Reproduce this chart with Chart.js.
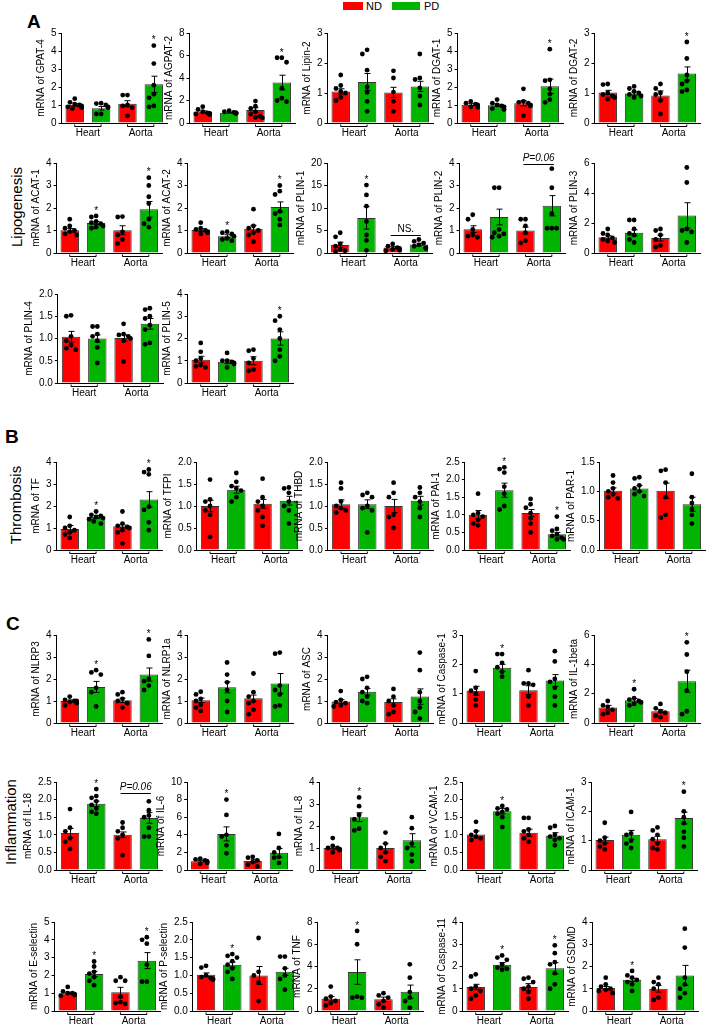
<!DOCTYPE html>
<html>
<head>
<meta charset="utf-8">
<script src="https://cdn.jsdelivr.net/npm/chart.js@4.4.1/dist/chart.umd.min.js"></script>
<style>
  body { margin: 0; background: #fff; width: 709px; height: 1026px; position: relative; overflow: hidden;
         font-family: "Liberation Sans", Arial, sans-serif; color: #000; }
  .panel { position: absolute; }
  .tag { position: absolute; font-weight: bold; font-size: 19px; line-height: 19px; }
  .side { position: absolute; font-size: 15px; line-height: 15px; white-space: nowrap;
          transform: translate(-50%, -50%) rotate(-90deg); }
  .key { position: absolute; }
  .ktxt { position: absolute; font-size: 11px; line-height: 11px; }
</style>
</head>
<body>
<div class="key" style="left:343px;top:2px;width:20px;height:8px;background:#ff0000"></div>
<div class="ktxt" style="left:366px;top:1px">ND</div>
<div class="key" style="left:392px;top:2px;width:28px;height:8px;background:#00b400"></div>
<div class="ktxt" style="left:424px;top:1px">PD</div>

<div class="tag" style="left:27px;top:12px">A</div>
<div class="tag" style="left:5px;top:427px">B</div>
<div class="tag" style="left:6px;top:614px">C</div>

<div class="side" style="left:16px;top:207px">Lipogenesis</div>
<div class="side" style="left:15px;top:505px">Thrombosis</div>
<div class="side" style="left:10px;top:822px">Inflammation</div>

<script>
// ---- data ----
const genes = ["GPAT-4", "AGPAT-2", "Lipin-2", "DGAT-1", "DGAT-2",
  "ACAT-1", "ACAT-2", "PLIN-1", "PLIN-2", "PLIN-3",
  "PLIN-4", "PLIN-5",
  "TF", "TFPI", "THBD", "PAI-1", "PAR-1",
  "NLRP3", "NLRP1a", "ASC", "Caspase-1", "IL-1beta",
  "IL-18", "IL-6", "IL-8", "VCAM-1", "ICAM-1",
  "E-selectin", "P-selectin", "TNF", "Caspase-11", "GSDMD"];
const groups = ["Heart", "Aorta"];
const diets = ["ND", "PD", "ND", "PD"];

const yMax = [5, 8, 3, 5, 3, 4, 4, 20, 4, 6, 2, 4, 4, 2, 2, 2.5, 1.5,
  4, 4, 4, 3, 6, 2.5, 10, 4, 2.5, 3, 5, 2.5, 8, 4, 4];
const yStep = [1, 2, 1, 1, 1, 1, 1, 5, 1, 2, 0.5, 1, 1, 0.5, 0.5, 0.5, 0.5,
  1, 1, 1, 1, 2, 0.5, 2, 1, 0.5, 1, 1, 0.5, 2, 1, 1];

// bar heights: Heart ND, Heart PD, Aorta ND, Aorta PD
const means = [
  [1.0, 0.82, 1.07, 2.15], [1.0, 0.92, 1.15, 3.6], [1.05, 1.37, 1.02, 1.22], [1.02, 0.98, 1.1, 2.04], [1.02, 0.98, 0.92, 1.65],
  [1.01, 1.33, 1.01, 1.94], [1.02, 0.75, 1.08, 2.05], [1.8, 7.8, 1.2, 1.9], [1.06, 1.6, 1.0, 2.1], [1.05, 1.35, 1.0, 2.5],
  [1.04, 1.0, 1.01, 1.33], [1.05, 0.95, 1.0, 2.0],
  [0.96, 1.5, 1.08, 2.3], [1.0, 1.37, 1.05, 1.12], [1.04, 1.04, 1.0, 1.12], [1.0, 1.7, 1.05, 0.45], [1.01, 1.05, 1.01, 0.78],
  [1.0, 1.64, 1.03, 2.2], [1.03, 1.62, 1.12, 1.8], [0.98, 1.42, 0.95, 1.2], [1.1, 1.88, 1.12, 1.45], [1.05, 1.55, 0.8, 2.85],
  [1.05, 1.88, 1.0, 1.48], [1.0, 4.1, 1.02, 1.95], [1.0, 2.4, 1.0, 1.35], [1.01, 1.67, 1.06, 0.98], [1.02, 1.2, 1.05, 1.77],
  [1.0, 2.08, 1.05, 2.83], [1.02, 1.3, 1.0, 1.1], [1.1, 3.5, 1.05, 1.73], [1.08, 2.08, 1.08, 1.92], [1.03, 1.4, 1.0, 1.6]
];
const sems = [
  [0.07, 0.1, 0.17, 0.45], [0.08, 0.04, 0.2, 0.65], [0.09, 0.28, 0.17, 0.17], [0.05, 0.06, 0.15, 0.4], [0.07, 0.05, 0.15, 0.22],
  [0.08, 0.07, 0.2, 0.35], [0.06, 0.06, 0.15, 0.22], [0.6, 2.5, 0.2, 0.25], [0.15, 0.35, 0.15, 0.45], [0.1, 0.2, 0.2, 0.85],
  [0.12, 0.08, 0.07, 0.12], [0.15, 0.08, 0.18, 0.3],
  [0.15, 0.07, 0.07, 0.35], [0.13, 0.08, 0.1, 0.1], [0.1, 0.1, 0.15, 0.1], [0.12, 0.2, 0.1, 0.05], [0.05, 0.05, 0.13, 0.12],
  [0.05, 0.25, 0.1, 0.3], [0.1, 0.25, 0.15, 0.45], [0.08, 0.15, 0.15, 0.35], [0.15, 0.12, 0.15, 0.2], [0.15, 0.12, 0.1, 0.75],
  [0.13, 0.08, 0.08, 0.15], [0.1, 0.8, 0.2, 0.5], [0.05, 0.2, 0.2, 0.3], [0.1, 0.08, 0.1, 0.08], [0.1, 0.15, 0.1, 0.2],
  [0.05, 0.15, 0.28, 0.45], [0.05, 0.07, 0.25, 0.1], [0.2, 1.1, 0.2, 0.6], [0.12, 0.1, 0.15, 0.25], [0.07, 0.07, 0.15, 0.45]
];
// individual animals per bar
const dots = [
  [[1.35, 1.15, 1.05, 1.0, 0.95, 0.9, 0.85, 0.8], [1.1, 1.08, 1.0, 0.9, 0.85, 0.5, 0.5], [1.55, 1.55, 1.0, 0.95, 0.85, 0.4], [4.3, 3.3, 2.1, 1.6, 1.4, 0.95, 0.9]],
  [[1.45, 1.2, 1.0, 0.9, 0.85, 0.8, 0.8, 0.75], [1.1, 1.0, 0.95, 0.9, 0.9, 0.88, 0.85, 0.85], [1.95, 1.5, 1.3, 1.0, 0.8, 0.6, 0.5, 0.45], [5.8, 5.8, 5.4, 3.1, 2.2, 2.0, 1.9]],
  [[1.6, 1.25, 1.15, 1.05, 1.0, 0.85, 0.75], [2.44, 2.3, 1.76, 1.2, 1.02, 0.72, 0.39], [1.74, 1.5, 1.03, 0.72, 0.39], [2.3, 1.5, 1.45, 1.17, 0.9, 0.6]],
  [[1.2, 1.1, 1.05, 1.0, 0.95, 0.9, 0.9, 0.88], [1.3, 1.1, 1.0, 0.95, 0.9, 0.8, 0.75], [1.9, 1.2, 1.15, 1.1, 1.0, 0.95, 0.4], [4.1, 2.4, 2.35, 1.9, 1.6, 1.3, 1.15]],
  [[1.3, 1.28, 1.0, 0.95, 0.9, 0.85, 0.8], [1.22, 1.15, 1.05, 1.0, 0.95, 0.9, 0.85], [1.3, 1.15, 1.0, 0.95, 0.75, 0.3], [2.7, 2.15, 1.6, 1.4, 1.3, 1.1, 1.05]],
  [[1.5, 1.2, 1.1, 1.0, 0.95, 0.85, 0.8], [1.65, 1.6, 1.4, 1.35, 1.3, 1.2, 1.15, 1.1], [1.62, 1.6, 0.94, 0.8, 0.6, 0.42], [3.35, 3.0, 2.5, 2.2, 1.5, 1.3, 1.15]],
  [[1.35, 1.1, 1.05, 1.0, 0.95, 0.9, 0.85], [0.95, 0.9, 0.85, 0.75, 0.65, 0.6, 0.55], [1.95, 1.2, 1.1, 1.0, 0.9, 0.8, 0.5], [3.0, 2.75, 2.6, 1.85, 1.75, 1.5, 1.25]],
  [[4.5, 3.6, 2.0, 1.5, 0.8, 0.5, 0.3], [15.1, 12.9, 10.4, 7.0, 4.0, 2.8, 0.6], [2.0, 1.5, 1.2, 1.0, 0.8, 0.6, 0.5], [3.0, 2.6, 2.2, 1.8, 1.5, 1.2, 1.0]],
  [[1.7, 1.5, 1.05, 0.8, 0.75, 0.7], [2.9, 2.9, 1.05, 0.9, 0.85, 0.75, 0.7], [1.5, 1.5, 1.2, 0.9, 0.55, 0.45], [3.75, 2.9, 1.75, 1.1, 1.1, 1.1]],
  [[1.6, 1.3, 1.2, 1.0, 0.9, 0.8, 0.7], [2.2, 2.2, 1.6, 1.3, 1.2, 0.9, 0.7], [1.6, 1.5, 1.2, 0.9, 0.5, 0.4], [5.7, 4.7, 1.6, 1.5, 1.4, 0.7]],
  [[1.52, 1.5, 1.05, 0.95, 0.85, 0.78, 0.75], [1.27, 1.27, 1.1, 1.05, 0.95, 0.8, 0.45], [1.33, 1.1, 1.08, 1.05, 1.0, 0.95, 0.48], [1.68, 1.65, 1.5, 1.45, 1.3, 1.2, 0.9, 0.87]],
  [[1.8, 1.4, 1.1, 1.0, 0.8, 0.75, 0.7], [1.35, 1.0, 1.0, 0.95, 0.9, 0.85, 0.7], [1.5, 1.45, 1.1, 0.9, 0.6, 0.55], [3.0, 2.8, 2.4, 2.0, 1.5, 1.2, 1.0]],
  [[1.5, 1.1, 1.0, 0.9, 0.8, 0.7, 0.55], [1.75, 1.6, 1.55, 1.5, 1.45, 1.4, 1.3, 1.2], [1.75, 1.2, 1.1, 1.05, 1.0, 0.9, 0.8, 0.3], [3.66, 3.54, 3.44, 1.97, 1.82, 1.26, 0.9]],
  [[1.6, 1.15, 1.1, 1.0, 0.9, 0.8, 0.3], [1.75, 1.55, 1.45, 1.4, 1.35, 1.2, 1.1], [1.62, 1.2, 1.1, 1.0, 0.9, 0.75, 0.55], [1.42, 1.4, 1.3, 1.1, 1.0, 0.9, 0.6]],
  [[1.53, 1.4, 1.1, 1.0, 0.95, 0.9, 0.85], [1.3, 1.25, 1.2, 1.0, 0.95, 0.9, 0.4], [1.53, 1.3, 1.2, 0.8, 0.75, 0.5], [1.42, 1.3, 1.2, 1.1, 0.95, 0.75]],
  [[1.6, 1.05, 1.0, 0.95, 0.85, 0.75, 0.7], [2.35, 2.3, 2.2, 1.8, 1.6, 1.25, 1.15], [1.45, 1.3, 1.2, 1.05, 0.9, 0.75, 0.5], [0.95, 0.6, 0.55, 0.45, 0.4, 0.35, 0.3, 0.3]],
  [[1.27, 1.15, 1.05, 1.0, 0.95, 0.9, 0.88], [1.24, 1.22, 1.1, 1.05, 1.0, 0.95, 0.92], [1.37, 1.35, 1.15, 0.9, 0.6, 0.55], [1.3, 0.9, 0.8, 0.7, 0.6, 0.45]],
  [[1.2, 1.05, 1.0, 1.0, 0.95, 0.9, 0.8], [2.4, 2.3, 2.2, 1.6, 1.4, 0.75], [1.4, 1.3, 1.1, 1.0, 0.9, 0.7], [3.8, 3.05, 2.0, 1.9, 1.7, 1.5]],
  [[1.42, 1.3, 1.1, 1.0, 0.82, 0.7, 0.55], [2.75, 2.2, 1.85, 1.5, 1.0, 0.5], [2.25, 1.4, 1.2, 1.0, 0.9, 0.6, 0.4], [3.2, 3.15, 1.7, 1.5, 1.3, 0.8, 0.75]],
  [[1.45, 1.05, 0.95, 0.9, 0.8, 0.75], [2.1, 2.0, 1.6, 1.4, 1.2, 1.0, 0.9], [1.55, 1.2, 1.0, 0.8, 0.5, 0.4], [3.2, 2.4, 1.4, 1.0, 0.7, 0.5, 0.2]],
  [[1.77, 1.2, 1.1, 1.0, 0.8, 0.6], [2.35, 2.35, 2.05, 1.9, 1.75, 1.58], [1.8, 1.35, 1.35, 1.3, 0.9, 0.6], [2.45, 2.1, 1.5, 1.4, 1.2, 0.9, 0.6]],
  [[1.5, 1.2, 1.1, 0.9, 0.7, 0.6], [2.3, 1.7, 1.6, 1.5, 1.4, 1.3, 1.2], [1.3, 1.0, 0.8, 0.7, 0.5, 0.4], [5.5, 4.67, 3.5, 2.2, 0.8, 0.6]],
  [[1.73, 1.2, 1.1, 0.9, 0.8, 0.6], [2.3, 2.1, 2.05, 1.95, 1.85, 1.75, 1.65, 1.6], [1.35, 1.2, 1.1, 1.0, 0.9, 0.42], [1.95, 1.7, 1.55, 1.5, 1.2, 0.95, 0.95]],
  [[1.3, 1.2, 1.1, 1.0, 0.9, 0.8, 0.7], [8.0, 6.26, 4.0, 3.8, 2.8, 1.9], [1.5, 1.4, 1.1, 0.9, 0.6, 0.4], [4.1, 2.5, 2.0, 1.5, 1.4, 0.8]],
  [[1.45, 1.1, 1.0, 1.0, 0.95, 0.9, 0.8], [3.3, 2.9, 2.5, 2.3, 1.88, 1.8], [1.7, 1.2, 1.0, 0.8, 0.6, 0.4], [2.4, 1.9, 1.2, 1.0, 0.7, 0.4]],
  [[1.37, 1.1, 1.0, 0.95, 0.9, 0.85], [1.82, 1.75, 1.72, 1.65, 1.6, 1.5, 1.22], [1.48, 1.48, 1.15, 1.1, 1.0, 0.9, 0.8], [1.25, 1.2, 1.0, 0.95, 0.9, 0.85, 0.7]],
  [[1.61, 1.1, 1.0, 0.9, 0.8, 0.7], [1.98, 1.25, 1.2, 1.0, 0.9, 0.75], [1.45, 1.35, 1.2, 1.05, 0.9, 0.75, 0.7], [2.67, 2.0, 1.8, 1.6, 1.3, 1.1, 0.8]],
  [[1.35, 1.1, 1.0, 1.0, 0.95, 0.9, 0.85], [2.78, 2.5, 2.2, 2.1, 1.9, 1.7, 1.45], [1.9, 1.7, 1.7, 0.8, 0.5, 0.45, 0.4], [4.15, 4.0, 3.78, 2.6, 1.65, 1.65]],
  [[1.27, 1.22, 1.0, 0.95, 0.92, 0.9, 0.9, 0.88], [1.6, 1.55, 1.5, 1.4, 1.3, 1.2, 1.1, 0.9], [2.05, 1.1, 1.0, 0.8, 0.28], [1.53, 1.53, 1.2, 1.0, 0.9, 0.6]],
  [[2.2, 1.3, 1.1, 0.9, 0.7, 0.5], [7.2, 6.0, 1.3, 1.2, 1.2], [1.6, 1.4, 1.2, 0.9, 0.6, 0.3], [4.2, 3.0, 1.7, 1.2, 0.9, 0.3]],
  [[1.65, 1.55, 1.1, 1.0, 0.9, 0.7, 0.55], [2.5, 2.4, 2.3, 2.1, 1.95, 1.9, 1.85], [1.5, 1.45, 1.3, 1.1, 1.0, 0.85, 0.55], [2.95, 2.6, 2.2, 2.1, 1.7, 1.2, 1.0]],
  [[1.5, 1.2, 1.1, 1.0, 0.95, 0.9, 0.8], [1.8, 1.6, 1.5, 1.4, 1.3, 1.2, 0.9], [1.5, 1.3, 1.2, 1.0, 0.6, 0.5], [3.7, 2.85, 1.5, 1.2, 1.0, 0.8, 0.6]]
];
// significance stars per bar (1 = "*")
const stars = [
  [0, 0, 0, 1], [0, 0, 0, 1], [0, 0, 0, 0], [0, 0, 0, 1], [0, 0, 0, 1],
  [0, 1, 0, 1], [0, 1, 0, 1], [0, 1, 0, 0], [0, 0, 0, 0], [0, 0, 0, 0],
  [0, 0, 0, 0], [0, 0, 0, 1],
  [0, 1, 0, 1], [0, 0, 0, 0], [0, 0, 0, 0], [0, 1, 0, 1], [0, 0, 0, 0],
  [0, 1, 0, 1], [0, 0, 0, 0], [0, 0, 0, 0], [0, 1, 0, 0], [0, 1, 0, 1],
  [0, 1, 0, 0], [0, 1, 0, 0], [0, 1, 0, 0], [0, 1, 0, 0], [0, 0, 0, 1],
  [0, 1, 0, 1], [0, 1, 0, 0], [0, 1, 0, 0], [0, 1, 0, 1], [0, 1, 0, 0]
];
// aorta ND vs PD comparison brackets
const bracketPanel = [7, 8, 22];
const bracketText = ["NS.", "P=0.06", "P=0.06"];
const bracketLevel = [4.0, 3.95, 2.2];

// ---- layout ----
const rowTop = [33, 163, 294, 462, 635, 782, 922];
const rowZero = [123, 253, 383, 550, 723, 870, 1011];
const panelRow = [0, 0, 0, 0, 0, 1, 1, 1, 1, 1, 2, 2, 3, 3, 3, 3, 3, 4, 4, 4, 4, 4, 5, 5, 5, 5, 5, 6, 6, 6, 6, 6];
const axisX = [62, 190, 328, 458, 595, 57, 188, 327, 460, 595, 58, 188,
  57, 197, 328, 465, 600, 57, 188, 328, 463, 595, 57, 187, 320, 463, 592, 55, 193, 318, 463, 593];
const PLOT_W = 107, PAD_TOP = 16, PAD_BOTTOM = 20, PAD_RIGHT = 4;
const RED = "#ff0000", GREEN = "#00b400";
const FONT = '"Liberation Sans", Arial, sans-serif';

Chart.defaults.font.family = FONT;
Chart.defaults.color = "#000";

const measure = document.createElement("canvas").getContext("2d");
measure.font = "10px " + FONT;

const fmt = (v, step) => (step < 1 ? v.toFixed(1) : String(v));

// spread the dots sideways so they do not sit on top of each other
function swarm(vals, max, plotH, catW) {
  const placed = [];
  const cands = [0, -4.8, 4.8, -2.4, 2.4, -7, 7];
  return vals.map((v) => {
    const py = (v / max) * plotH;
    let off = cands[cands.length - 1];
    for (const c of cands) {
      if (placed.every((q) => Math.hypot(q.x - c, q.y - py) >= 4.8)) { off = c; break; }
    }
    placed.push({ x: off, y: py });
    return off / catW;
  });
}

const decor = {
  id: "decor",
  afterDatasetDraw(chart, args, opts) {
    if (args.index !== 0) return;
    const p = opts.p;
    const { ctx } = chart;
    const x = chart.scales.x, y = chart.scales.y;
    ctx.save();
    ctx.strokeStyle = "#000";
    ctx.lineWidth = 1;
    means[p].forEach((m, i) => {
      const cx = Math.round(x.getPixelForValue(i)) + 0.5;
      const yt = y.getPixelForValue(m + sems[p][i]);
      const yb = y.getPixelForValue(m - sems[p][i]);
      ctx.beginPath();
      ctx.moveTo(cx, yt); ctx.lineTo(cx, yb);
      ctx.moveTo(cx - 3, yt); ctx.lineTo(cx + 3, yt);
      ctx.moveTo(cx - 3, yb); ctx.lineTo(cx + 3, yb);
      ctx.stroke();
    });
    ctx.restore();
  },
  afterDraw(chart, args, opts) {
    const p = opts.p;
    const { ctx, chartArea } = chart;
    const x = chart.scales.x, y = chart.scales.y;
    ctx.save();
    ctx.fillStyle = "#000";
    ctx.strokeStyle = "#000";
    ctx.lineWidth = 1;
    ctx.textAlign = "center";

    // group labels under the axis
    const ly = Math.round(chartArea.bottom) + 3.5;
    groups.forEach((g, k) => {
      const a = x.getPixelForValue(2 * k), b = x.getPixelForValue(2 * k + 1);
      ctx.beginPath();
      ctx.moveTo(a, ly - 2); ctx.lineTo(a, ly); ctx.lineTo(b, ly); ctx.lineTo(b, ly - 2);
      ctx.stroke();
      ctx.font = "10px " + FONT;
      ctx.textBaseline = "middle";
      ctx.fillText(g, (a + b) / 2, chartArea.bottom + 10.5);
    });

    // stars
    ctx.font = "10px " + FONT;
    ctx.textBaseline = "middle";
    stars[p].forEach((s, i) => {
      if (!s) return;
      const top = Math.max(means[p][i] + sems[p][i], ...dots[p][i]);
      ctx.fillText("*", x.getPixelForValue(i), y.getPixelForValue(top) - 5);
    });

    // brackets
    const bi = bracketPanel.indexOf(p);
    if (bi >= 0) {
      const a = x.getPixelForValue(2), b = x.getPixelForValue(3);
      const by = Math.round(y.getPixelForValue(bracketLevel[bi])) + 0.5;
      ctx.beginPath(); ctx.moveTo(a - 2, by); ctx.lineTo(b + 2, by); ctx.stroke();
      const t = bracketText[bi];
      ctx.font = (t.startsWith("P") ? "italic " : "") + "10px " + FONT;
      ctx.textBaseline = "bottom";
      ctx.fillText(t, (a + b) / 2, by - 1);
    }
    ctx.restore();
  }
};

genes.forEach((gene, p) => {
  const r = panelRow[p];
  const plotH = rowZero[r] - rowTop[r];
  const n = Math.round(yMax[p] / yStep[p]);
  const tickLabels = [];
  for (let k = 0; k <= n; k++) tickLabels.push(fmt(k * yStep[p], yStep[p]));
  const widest = Math.max(...tickLabels.map((t) => measure.measureText(t).width));
  const yW = 12 + 3 + 3 + 2 + widest;
  const W = Math.round(yW + PLOT_W + PAD_RIGHT);
  const H = PAD_TOP + plotH + PAD_BOTTOM;

  const box = document.createElement("div");
  box.className = "panel";
  const cv = document.createElement("canvas");
  cv.width = W; cv.height = H;
  cv.style.width = W + "px"; cv.style.height = H + "px";
  box.appendChild(cv);
  document.body.appendChild(box);

  const catW = PLOT_W / 4;
  const pts = [];
  dots[p].forEach((grp, i) => {
    const offs = swarm(grp, yMax[p], plotH, catW);
    grp.forEach((v, k) => pts.push({ x: i + offs[k], y: v }));
  });

  const chart = new Chart(cv, {
    type: "bar",
    data: {
      labels: diets,
      datasets: [
        {
          data: means[p],
          backgroundColor: [RED, GREEN, RED, GREEN],
          borderColor: "#333",
          borderWidth: 1,
          barPercentage: 0.7,
          categoryPercentage: 1,
          grouped: false,
          order: 1
        },
        {
          type: "scatter",
          xAxisID: "xd",
          data: pts,
          pointRadius: 2.4,
          pointBackgroundColor: "#000",
          pointBorderWidth: 0,
          clip: false,
          order: 0
        }
      ]
    },
    options: {
      responsive: false,
      animation: false,
      events: [],
      layout: { padding: { top: PAD_TOP, bottom: PAD_BOTTOM, left: 0, right: PAD_RIGHT } },
      plugins: { legend: { display: false }, tooltip: { enabled: false }, decor: { p } },
      scales: {
        x: {
          offset: true,
          grid: { display: false, drawTicks: false },
          ticks: { display: false },
          border: { display: true, color: "#000", width: 1 }
        },
        xd: { type: "linear", display: false, min: -0.5, max: 3.5, offset: false },
        y: {
          min: 0,
          max: yMax[p],
          grid: { display: true, drawOnChartArea: false, drawTicks: true, tickLength: 3, color: "#000" },
          border: { display: true, color: "#000", width: 1 },
          ticks: {
            stepSize: yStep[p],
            padding: 2,
            font: { size: 10 },
            color: "#000",
            callback: (v) => fmt(v, yStep[p])
          },
          title: { display: true, text: "mRNA of " + gene, font: { size: 10 }, color: "#000", padding: { top: 1, bottom: 2 } }
        }
      }
    },
    plugins: [decor]
  });

  box.style.left = (axisX[p] - chart.chartArea.left) + "px";
  box.style.top = (rowTop[r] - chart.chartArea.top) + "px";
});
</script>
</body>
</html>
